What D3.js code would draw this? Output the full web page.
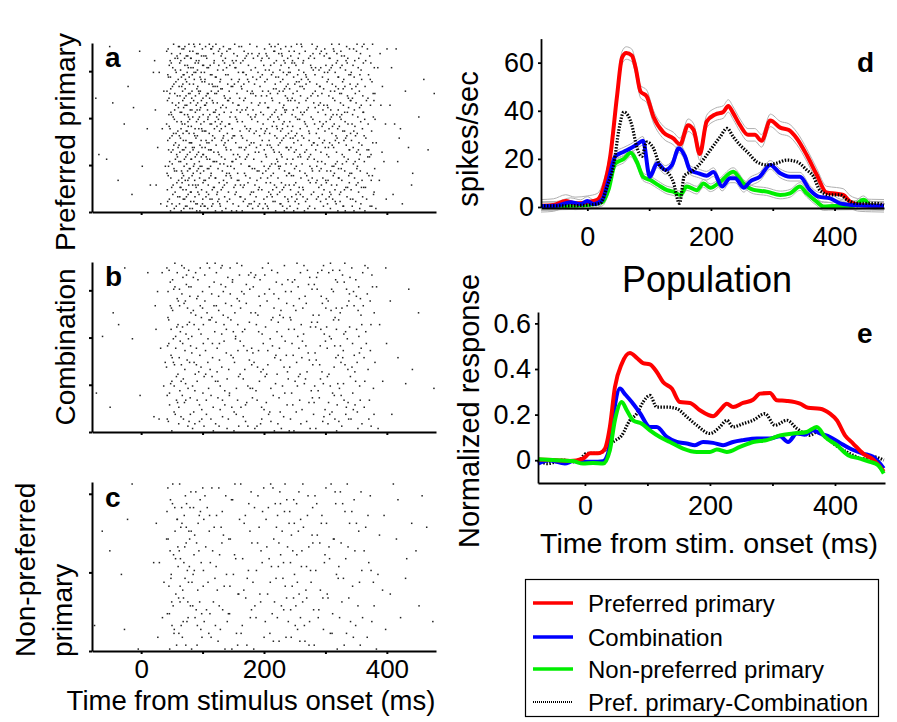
<!DOCTYPE html>
<html>
<head>
<meta charset="utf-8">
<script src="https://cdn.jsdelivr.net/npm/d3@7"></script>
<style>
  body { margin: 0; background: #fff; }
  svg text { font-family: "Liberation Sans", Arial, sans-serif; fill: #000; }
</style>
</head>
<body>
<script>
// ---- raster data: spike counts per 20 ms bin (bin start times in ms)
const binStarts = [-80, -60, -40, -20, 0, 20, 40, 60, 80, 100, 120, 140, 160, 180,
  200, 220, 240, 260, 280, 300, 320, 340, 360, 380, 400, 420, 440, 460];
const binWidth = 20;
const countsA = [2, 3, 3, 3, 4, 9, 80, 108, 102, 92, 80, 70, 68, 62,
  74, 80, 75, 64, 64, 72, 70, 64, 46, 12, 7, 5, 3, 2];
const countsB = [2, 2, 2, 2, 2, 8, 45, 45, 38, 33, 35, 33, 30, 30,
  28, 30, 30, 28, 30, 35, 33, 30, 22, 6, 3, 2, 2, 1];
const countsC = [2, 2, 3, 2, 1, 5, 30, 34, 28, 20, 18, 17, 17, 16,
  18, 22, 24, 20, 16, 16, 16, 14, 10, 6, 4, 4, 3, 2];

// ---- single neuron PSTH (d), spikes/sec, [time ms, rate]
const dPref = [[-75,0.5],[-55,0.8],[-35,2.5],[-20,1.5],[0,2],[16,3],[26,8],[37,21],[48,46],[56,62],[63,64],[72,63],[78,58],[86,48],[96,46],[107,37.5],[123,31],[139,28.5],[150,26],[163,34],[172,32],[182,22],[193,35.5],[207,38.5],[220,39.5],[228,42],[236,39],[247,34],[260,30],[271,30],[282,27.5],[296,36],[312,33],[326,32],[339,28.5],[355,21.6],[371,13.5],[387,6],[403,5.5],[414,5],[425,2.2],[441,0.8],[460,0.6],[480,0.5]];
const dComb = [[-75,0.4],[-50,0.5],[-27,2],[-11,1.2],[0,2.5],[10,1.2],[24,3],[34,11],[45,21],[59,23],[70,24.4],[80,26],[90,27.5],[101,12.6],[113,18.2],[126,15.4],[137,17.5],[148,24.4],[158,21],[166,15.4],[180,14],[193,13],[204,14.5],[218,8.5],[231,11.9],[239,11.9],[253,8],[263,10.5],[279,12.6],[296,17.5],[312,14],[328,12.6],[344,12.6],[360,7.1],[374,4.3],[393,3.6],[409,1.5],[430,0.8],[460,0.5],[480,0.5]];
const dNon = [[-75,0.3],[-40,0.5],[0,0.8],[24,2],[34,7],[45,18],[59,20],[70,22.5],[80,18.8],[90,12.6],[102,11.2],[115,9.1],[129,7],[139,6.4],[150,5],[161,8.5],[177,7],[188,9.8],[199,8],[215,10.5],[236,14.7],[253,9.7],[269,7.1],[290,6.4],[312,5],[328,5.7],[344,8.5],[355,5.7],[371,2.2],[382,0.2],[398,0.4],[430,0.5],[447,3],[458,0.8],[480,0.3]];
const dDiff = [[-75,0.5],[-40,0.5],[0,0.8],[21,1.5],[32,8.5],[43,18],[51,32],[59,39.5],[66,38],[72,34],[80,25],[88,21],[96,27],[107,24.4],[118,16.8],[129,14.7],[139,10.5],[149,1.5],[157,13],[170,15],[185,18.8],[199,23.7],[215,29.2],[226,32.7],[236,29.2],[247,25.8],[261,22.3],[274,18.8],[290,17.5],[306,18.2],[323,19.5],[339,18.8],[355,15.4],[366,12.6],[376,7],[393,5],[409,5],[420,3],[436,1.5],[468,1.5],[480,0.8]];
const dSem = [2.6, 1.8, 1.6]; // pref, comb, non-pref

// ---- population (e), normalized response, [time ms, value]
const ePref = [[-75,0.003],[-45,0],[-24,-0.004],[-3,0.007],[8,0.03],[24,0.032],[32,0.05],[40,0.146],[48,0.32],[59,0.423],[72,0.47],[83,0.449],[93,0.426],[104,0.42],[115,0.387],[125,0.343],[139,0.314],[152,0.255],[168,0.251],[184,0.219],[205,0.193],[216,0.219],[227,0.248],[237,0.233],[253,0.251],[269,0.265],[280,0.292],[296,0.295],[307,0.263],[323,0.26],[344,0.248],[357,0.23],[376,0.226],[392,0.204],[403,0.175],[416,0.109],[429,0.073],[445,0.029],[461,0.003],[478,-0.05]];
const eComb = [[-75,-0.015],[-57,0],[-32,-0.015],[-19,-0.004],[-3,-0.007],[13,-0.007],[29,-0.004],[37,0.03],[45,0.19],[56,0.314],[64,0.29],[75,0.255],[88,0.207],[104,0.146],[115,0.146],[131,0.102],[147,0.08],[163,0.073],[176,0.066],[189,0.08],[205,0.076],[221,0.066],[237,0.08],[253,0.088],[275,0.095],[296,0.095],[312,0.105],[325,0.08],[339,0.117],[352,0.112],[365,0.131],[376,0.117],[392,0.102],[408,0.076],[424,0.051],[445,0.029],[461,0.015],[478,-0.036]];
const eNon = [[-75,0.004],[-45,0],[-19,-0.004],[-3,-0.015],[13,-0.012],[29,-0.015],[40,0.044],[48,0.175],[59,0.255],[67,0.219],[77,0.175],[91,0.16],[104,0.131],[120,0.102],[136,0.08],[157,0.051],[179,0.036],[200,0.036],[211,0.047],[227,0.036],[248,0.058],[269,0.08],[291,0.088],[312,0.109],[333,0.117],[355,0.124],[371,0.146],[384,0.102],[403,0.066],[421,0.022],[440,0.007],[456,-0.007],[469,-0.022],[478,-0.058]];
const eDiff = [[-75,0],[-60,-0.015],[-35,0],[-13,-0.008],[3,0.03],[19,0.03],[32,0.044],[45,0.08],[59,0.109],[72,0.175],[83,0.204],[93,0.255],[104,0.284],[115,0.233],[131,0.233],[147,0.226],[163,0.19],[179,0.153],[200,0.117],[216,0.146],[227,0.175],[237,0.146],[253,0.16],[269,0.175],[288,0.204],[304,0.153],[323,0.175],[339,0.139],[360,0.109],[371,0.124],[387,0.095],[405,0.058],[424,0.029],[445,0.007],[461,0.015],[478,0]];

const legendLabels = ["Preferred primary", "Combination", "Non-preferred primary", "Pref. primary-Combination"];
const colors = ["#ff0000", "#0000ff", "#00ee00", "#000"];

const FONT_FAMILY = '"Liberation Sans", Arial, sans-serif';
const TICK_FONT = 27;

const svg = d3.select("body").append("svg").attr("width", 897).attr("height", 722);

function styleAxis(g, sw, fs = TICK_FONT) {
  g.attr("font-size", fs).attr("font-family", FONT_FAMILY);
  g.select(".domain").attr("stroke-width", sw);
  g.selectAll(".tick line").attr("stroke-width", sw);
  g.selectAll(".tick text").attr("fill", "#000");
}

// ---------------- Rasters (a, b, c)
const rx = d3.scaleLinear().domain([-80, 480]).range([92, 436]);

const rasters = [
  { label: "a", counts: countsA, trials: 72, top: 43, bottom: 212, showX: false },
  { label: "b", counts: countsB, trials: 72, top: 262, bottom: 432, showX: false },
  { label: "c", counts: countsC, trials: 43, top: 482, bottom: 651, showX: true },
];

// halton sequence, used to spread each bin's spikes over time and trials
function halton(index, base) {
  let f = 1, r = 0;
  while (index > 0) {
    f /= base;
    r += f * (index % base);
    index = Math.floor(index / base);
  }
  return r;
}

function layoutSpikes(counts, nTrials, seed) {
  const dots = [];
  counts.forEach((n, i) => {
    for (let k = 0; k < n; k++) {
      const idx = 1 + k + i * 131 + seed;
      dots.push({
        t: binStarts[i] + halton(idx, 2) * binWidth,
        trial: Math.floor(halton(idx, 3) * nTrials),
      });
    }
  });
  return dots;
}

rasters.forEach((p, pi) => {
  const ry = d3.scaleLinear().domain([0, p.trials]).range([p.bottom, p.top]);
  const g = svg.append("g").attr("class", "raster-" + p.label);

  g.selectAll("rect.spike")
    .data(layoutSpikes(p.counts, p.trials, pi * 977))
    .join("rect")
    .attr("class", "spike")
    .attr("x", (d) => rx(d.t))
    .attr("y", (d) => ry(d.trial + 0.5) - 0.7)
    .attr("width", 1.5)
    .attr("height", 1.5)
    .attr("fill", "#222");

  const yAxis = g.append("g")
    .attr("transform", `translate(${rx.range()[0]},0)`)
    .call(d3.axisLeft(ry).tickValues(d3.range(0, p.trials, 20)).tickSize(3).tickSizeOuter(0).tickFormat(""));
  styleAxis(yAxis, 2);

  const xAxis = g.append("g")
    .attr("transform", `translate(0,${p.bottom})`)
    .call(d3.axisBottom(rx).tickValues([0, 100, 200, 300, 400]).tickSize(3).tickSizeOuter(0)
      .tickPadding(6)
      .tickFormat((d) => (p.showX && d % 200 === 0 ? d : "")));
  styleAxis(xAxis, 2, 26);

  g.append("text")
    .attr("x", 105).attr("y", p.top + (p.label === "c" ? 25 : 24))
    .attr("font-size", 28).attr("font-weight", "bold")
    .text(p.label);
});

// raster y labels
svg.append("text")
  .attr("transform", "translate(75,142) rotate(-90)")
  .attr("text-anchor", "middle").attr("font-size", 28)
  .text("Preferred primary");
svg.append("text")
  .attr("transform", "translate(75,347) rotate(-90)")
  .attr("text-anchor", "middle").attr("font-size", 28)
  .text("Combination");
svg.append("text")
  .attr("transform", "translate(35,657) rotate(-90)")
  .attr("text-anchor", "start").attr("font-size", 28)
  .text("Non-preferred");
svg.append("text")
  .attr("transform", "translate(72,657) rotate(-90)")
  .attr("text-anchor", "start").attr("font-size", 28)
  .text("primary");

svg.append("text")
  .attr("x", 251).attr("y", 710)
  .attr("text-anchor", "middle").attr("font-size", 27.5)
  .text("Time from stimulus onset (ms)");

// ---------------- Panel d
const dx = d3.scaleLinear().domain([-75, 480]).range([541, 884]);
const dy = d3.scaleLinear().domain([0, 70]).range([207, 38.6]);
const dLine = d3.line().x((d) => dx(d[0])).y((d) => dy(d[1])).curve(d3.curveMonotoneX);

const gd = svg.append("g").attr("class", "panel-d");

[dPref, dComb, dNon].forEach((s, i) => {
  [-1, 1].forEach((sgn) => {
    gd.append("path")
      .attr("d", dLine(s.map((d) => [d[0], d[1] + sgn * dSem[i]])))
      .attr("fill", "none").attr("stroke", "#b0b0b0").attr("stroke-width", 1);
  });
});

gd.append("path").attr("d", dLine(dNon)).attr("fill", "none")
  .attr("stroke", colors[2]).attr("stroke-width", 4);
gd.append("path").attr("d", dLine(dPref)).attr("fill", "none")
  .attr("stroke", colors[0]).attr("stroke-width", 4);
gd.append("path").attr("d", dLine(dComb)).attr("fill", "none")
  .attr("stroke", colors[1]).attr("stroke-width", 4);
gd.append("path").attr("d", dLine(dDiff)).attr("fill", "none")
  .attr("stroke", "#000").attr("stroke-width", 3.2).attr("stroke-dasharray", "1.5,1.5");

const dyAxis = gd.append("g").attr("transform", `translate(${dx.range()[0]},0)`)
  .call(d3.axisLeft(dy).tickValues([0, 20, 40, 60]).tickSize(3).tickSizeOuter(0).tickPadding(4));
styleAxis(dyAxis, 1.8);
const dxAxis = gd.append("g").attr("transform", "translate(0,208)")
  .call(d3.axisBottom(dx).tickValues([0, 100, 200, 300, 400]).tickSize(3).tickSizeOuter(0)
    .tickPadding(16).tickFormat((d) => (d % 200 === 0 ? d : "")));
styleAxis(dxAxis, 1.8);

gd.append("text")
  .attr("transform", "translate(478,139) rotate(-90)")
  .attr("text-anchor", "middle").attr("font-size", 29)
  .text("spikes/sec");
gd.append("text").attr("x", 857).attr("y", 72)
  .attr("font-size", 28).attr("font-weight", "bold").text("d");

// ---------------- Panel e
const ex = d3.scaleLinear().domain([-75, 480]).range([538, 885]);
const ey = d3.scaleLinear().domain([-0.1, 0.65]).range([483, 312]);
const eLine = d3.line().x((d) => ex(d[0])).y((d) => ey(d[1])).curve(d3.curveMonotoneX);

const ge = svg.append("g").attr("class", "panel-e");

ge.append("path").attr("d", eLine(eDiff)).attr("fill", "none")
  .attr("stroke", "#000").attr("stroke-width", 3.2).attr("stroke-dasharray", "1.5,1.5");
ge.append("path").attr("d", eLine(eComb)).attr("fill", "none")
  .attr("stroke", colors[1]).attr("stroke-width", 4);
ge.append("path").attr("d", eLine(ePref)).attr("fill", "none")
  .attr("stroke", colors[0]).attr("stroke-width", 4);
ge.append("path").attr("d", eLine(eNon)).attr("fill", "none")
  .attr("stroke", colors[2]).attr("stroke-width", 4);

const eyAxis = ge.append("g").attr("transform", `translate(${ex.range()[0]},0)`)
  .call(d3.axisLeft(ey).tickValues([0, 0.2, 0.4, 0.6]).tickSize(3).tickSizeOuter(0).tickPadding(4)
    .tickFormat((d) => (d === 0 ? "0" : d.toFixed(1))));
styleAxis(eyAxis, 1.8);
const exAxis = ge.append("g").attr("transform", "translate(0,483)")
  .call(d3.axisBottom(ex).tickValues([0, 100, 200, 300, 400]).tickSize(3).tickSizeOuter(0)
    .tickPadding(10).tickFormat((d) => (d % 200 === 0 ? d : "")));
styleAxis(exAxis, 1.8);

ge.append("text").attr("x", 707).attr("y", 292)
  .attr("text-anchor", "middle").attr("font-size", 36).text("Population");
ge.append("text")
  .attr("transform", "translate(479,411) rotate(-90)")
  .attr("text-anchor", "middle").attr("font-size", 29)
  .text("Normalized response");
ge.append("text").attr("x", 709).attr("y", 553)
  .attr("text-anchor", "middle").attr("font-size", 28.5)
  .text("Time from stim. onset (ms)");
ge.append("text").attr("x", 857).attr("y", 343)
  .attr("font-size", 28).attr("font-weight", "bold").text("e");

// ---------------- Legend
const lg = svg.append("g").attr("class", "legend");
lg.append("rect").attr("x", 525.5).attr("y", 579.5).attr("width", 353).attr("height", 137)
  .attr("fill", "#fff").attr("stroke", "#000").attr("stroke-width", 1.2);

const rowY = [603, 637, 669, 702];
legendLabels.forEach((name, i) => {
  const last = i === legendLabels.length - 1;
  lg.append("line")
    .attr("x1", 533).attr("x2", 573).attr("y1", rowY[i]).attr("y2", rowY[i])
    .attr("stroke", colors[i])
    .attr("stroke-width", last ? 2 : 3.5)
    .attr("stroke-dasharray", last ? "1,1" : null);
  lg.append("text")
    .attr("x", 588).attr("y", rowY[i] + 8.5)
    .attr("font-size", 24)
    .text(name);
});
</script>
</body>
</html>
